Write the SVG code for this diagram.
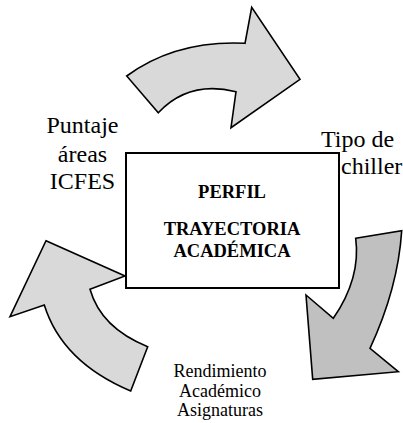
<svg xmlns="http://www.w3.org/2000/svg" width="403" height="423" viewBox="0 0 403 423">
<style>
.arr{stroke:#000;stroke-width:1.6;stroke-linejoin:miter}
.light{fill:#d9d9d9}
.dark{fill:#c0c0c0}
.lbl{font-family:"Liberation Serif","Times New Roman",serif;font-size:24px;fill:#000}
.sm{font-family:"Liberation Serif","Times New Roman",serif;font-size:18px;fill:#000;text-anchor:middle}
.bold{font-family:"Liberation Serif","Times New Roman",serif;font-size:18.5px;font-weight:bold;fill:#000;text-anchor:middle}
</style>
<rect width="403" height="423" fill="#fff"/>
<g id="connectors">
<path id="arrow-top" class="arr light" d="M126.7,76 Q176,40 245,43.3 L251.7,7.3 L300,79.3 L231,127.7 L236,91.7 Q189,80 158.3,112.7 Z"/>
<path id="arrow-right" class="arr dark" d="M355.7,238.3 L401.7,230.7 Q398,288 370,348.3 L398.3,371.7 L312.7,379.3 L306,295 L333.3,318.3 Q361,278 355.7,238.3 Z"/>
<path id="arrow-left" class="arr light" d="M46,240.7 L125,276 L90,289.3 Q101,328 147.7,346.7 L130.7,391 Q62,362 44.3,305 L10,316.7 Z"/>
</g>
<g id="node-perfil">
<rect x="126" y="153" width="213" height="135" fill="#fff" stroke="#000" stroke-width="2"/>
<text class="bold" x="232" y="198.3">PERFIL</text>
<text class="bold" x="232" y="235">TRAYECTORIA</text>
<text class="bold" x="232" y="256.7">ACADÉMICA</text>
</g>
<g id="label-puntaje">
<text class="lbl" x="82.5" y="133.3" text-anchor="middle">Puntaje</text>
<text class="lbl" x="82.5" y="161.7" text-anchor="middle">áreas</text>
<text class="lbl" x="82.5" y="189.3" text-anchor="middle">ICFES</text>
</g>
<g id="label-chiller">
<text class="lbl" x="321" y="147.3">Tipo de</text>
<text class="lbl" x="341" y="174">chiller</text>
</g>
<g id="label-rendimiento">
<text class="sm" x="220" y="376.7">Rendimiento</text>
<text class="sm" x="220" y="396.7">Académico</text>
<text class="sm" x="220" y="416">Asignaturas</text>
</g>
</svg>
